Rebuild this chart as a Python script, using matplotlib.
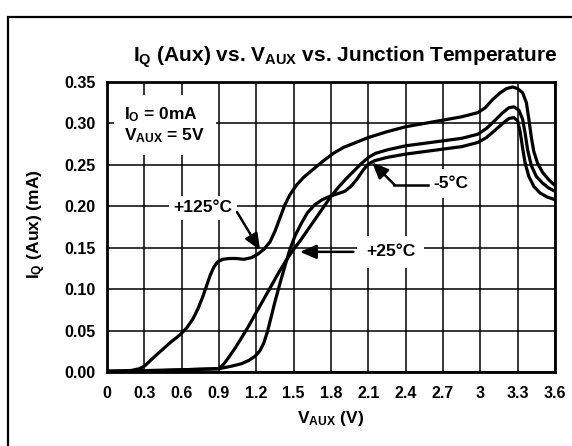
import matplotlib
matplotlib.use('Agg')
import matplotlib.pyplot as plt
from matplotlib.patches import Rectangle

plt.rcParams['font.family'] = ['Liberation Sans', 'DejaVu Sans']
plt.rcParams['font.weight'] = 'bold'
plt.rcParams['mathtext.fontset'] = 'custom'
plt.rcParams['mathtext.rm'] = 'Liberation Sans:bold'
plt.rcParams['mathtext.it'] = 'Liberation Sans:bold'
plt.rcParams['mathtext.bf'] = 'Liberation Sans:bold'

# +125 C curve
v_125 = [0, 0.10, 0.20, 0.26, 0.30, 0.35, 0.40, 0.46, 0.52, 0.58, 0.64, 0.69, 0.73, 0.77,
         0.80, 0.83, 0.86, 0.89, 0.93, 0.98, 1.04, 1.10, 1.16, 1.21, 1.26, 1.31, 1.35,
         1.39, 1.43, 1.47, 1.52, 1.58, 1.66, 1.74, 1.82, 1.90, 2.00, 2.10, 2.25, 2.40,
         2.55, 2.70, 2.85, 2.98, 3.04, 3.10, 3.16, 3.21, 3.26, 3.30, 3.34, 3.37, 3.39,
         3.41, 3.43, 3.46, 3.50, 3.55, 3.60]
i_125 = [0.000, 0.0005, 0.002, 0.004, 0.007, 0.014, 0.021, 0.029, 0.037, 0.044, 0.053,
         0.064, 0.076, 0.091, 0.104, 0.117, 0.127, 0.133, 0.136, 0.137, 0.137, 0.136,
         0.138, 0.142, 0.148, 0.157, 0.170, 0.186, 0.202, 0.214, 0.225, 0.235, 0.245,
         0.255, 0.264, 0.271, 0.277, 0.283, 0.290, 0.296, 0.300, 0.304, 0.308, 0.313,
         0.319, 0.329, 0.337, 0.342, 0.344, 0.342, 0.337, 0.325, 0.305, 0.283, 0.266,
         0.252, 0.241, 0.232, 0.225]

# +25 C curve
v_25 = [0, 0.45, 0.90, 0.94, 0.98, 1.03, 1.08, 1.14, 1.20, 1.26, 1.32, 1.38, 1.44, 1.50,
        1.56, 1.62, 1.68, 1.74, 1.80, 1.86, 1.92, 1.98, 2.04, 2.10, 2.16, 2.25, 2.40,
        2.55, 2.70, 2.85, 2.98, 3.05, 3.12, 3.18, 3.23, 3.27, 3.31, 3.34, 3.36, 3.38,
        3.41, 3.45, 3.50, 3.55, 3.60]
i_25 = [0.001, 0.002, 0.004, 0.010, 0.018, 0.029, 0.041, 0.056, 0.072, 0.088, 0.104,
        0.120, 0.135, 0.148, 0.160, 0.173, 0.186, 0.199, 0.212, 0.223, 0.233, 0.242,
        0.251, 0.259, 0.264, 0.268, 0.273, 0.276, 0.279, 0.282, 0.287, 0.294, 0.304,
        0.313, 0.319, 0.320, 0.316, 0.305, 0.288, 0.268, 0.249, 0.236, 0.228, 0.222,
        0.218]

# -5 C curve
v_m5 = [0, 0.45, 0.90, 1.00, 1.08, 1.14, 1.19, 1.23, 1.26, 1.29, 1.32, 1.35, 1.39, 1.43,
        1.47, 1.51, 1.56, 1.61, 1.67, 1.73, 1.79, 1.85, 1.91, 1.96, 2.01, 2.06, 2.10,
        2.15, 2.25, 2.40, 2.55, 2.70, 2.85, 2.98, 3.05, 3.12, 3.18, 3.23, 3.27, 3.30,
        3.32, 3.34, 3.36, 3.39, 3.43, 3.48, 3.54, 3.60]
i_m5 = [0.001, 0.002, 0.004, 0.007, 0.010, 0.014, 0.019, 0.026, 0.035, 0.049, 0.067,
        0.085, 0.107, 0.128, 0.148, 0.164, 0.179, 0.192, 0.202, 0.208, 0.212, 0.215,
        0.218, 0.224, 0.233, 0.244, 0.251, 0.255, 0.259, 0.263, 0.266, 0.269, 0.272,
        0.277, 0.283, 0.292, 0.300, 0.306, 0.307, 0.303, 0.290, 0.270, 0.252, 0.236,
        0.224, 0.216, 0.211, 0.208]

x_ticks = [0, 0.3, 0.6, 0.9, 1.2, 1.5, 1.8, 2.1, 2.4, 2.7, 3.0, 3.3, 3.6]
x_labels = ['0', '0.3', '0.6', '0.9', '1.2', '1.5', '1.8', '2.1', '2.4', '2.7', '3', '3.3', '3.6']
y_ticks = [0.00, 0.05, 0.10, 0.15, 0.20, 0.25, 0.30, 0.35]
y_labels = ['0.00', '0.05', '0.10', '0.15', '0.20', '0.25', '0.30', '0.35']

W, H = 572, 446
fig = plt.figure(figsize=(W / 100, H / 100), dpi=100)
ax = fig.add_axes([107 / W, 1 - 372 / H, (555 - 107) / W, (372 - 82) / H])

for v, i in [(v_125, i_125), (v_25, i_25), (v_m5, i_m5)]:
    ax.plot(v, i, color='black', lw=2.3, zorder=3, solid_joinstyle='round')

ax.set_xlim(0, 3.6)
ax.set_ylim(0, 0.35)
ax.set_xticks(x_ticks)
ax.set_xticklabels(x_labels)
ax.set_yticks(y_ticks)
ax.set_yticklabels(y_labels)
ax.tick_params(length=0, labelsize=11.5)
ax.tick_params(axis='x', pad=10)
ax.tick_params(axis='y', pad=8)
ax.grid(True, color='black', lw=1.1)
for s in ax.spines.values():
    s.set_linewidth(2.0)

arrow = dict(arrowstyle='-|>,head_length=0.7,head_width=0.3', color='black',
             lw=1.8, mutation_scale=14, shrinkA=0, shrinkB=0)

ax.text(0.14, 0.322, 'I$_{O}$ = 0mA\nV$_{AUX}$ = 5V', fontsize=12.5, va='top', ha='left',
        linespacing=1.15, zorder=4,
        bbox=dict(boxstyle='square,pad=0.6', fc='white', ec='none'))

ax.text(0.77, 0.198, '+125°C', fontsize=12.5, ha='center', va='center', zorder=4,
        bbox=dict(boxstyle='square,pad=0.25', fc='white', ec='none'))
ax.annotate('', xy=(1.23, 0.147), xytext=(1.045, 0.193), zorder=5, arrowprops=arrow)

ax.text(2.28, 0.145, '+25°C', fontsize=12.5, ha='center', va='center', zorder=4,
        bbox=dict(boxstyle='square,pad=0.5', fc='white', ec='none'))
ax.annotate('', xy=(1.55, 0.145), xytext=(1.98, 0.145), zorder=5, arrowprops=arrow)

ax.text(2.76, 0.227, '-5°C', fontsize=12.5, ha='center', va='center', zorder=4,
        bbox=dict(boxstyle='square,pad=0.4', fc='white', ec='none'))
ax.plot([2.31, 2.58], [0.226, 0.226], color='black', lw=1.8, zorder=5)
ax.annotate('', xy=(2.13, 0.253), xytext=(2.31, 0.226), zorder=5, arrowprops=arrow)

fig.text(345 / W, 1 - 57 / H, 'I$_{Q}$ (Aux) vs. V$_{AUX}$ vs. Junction Temperature',
         fontsize=15, ha='center', va='center')
fig.text(37 / W, 1 - 224 / H, 'I$_{Q}$ (Aux) (mA)', fontsize=12.5, rotation=90,
         ha='center', va='center')
fig.text(331 / W, 1 - 418 / H, 'V$_{AUX}$ (V)', fontsize=12.5, ha='center', va='center')

fig.patches.append(Rectangle((8 / W, -0.1), 1.2, 1 - 17 / H + 0.1, transform=fig.transFigure,
                             fill=False, ec='black', lw=1.6))

fig.savefig('out.png', dpi=100)
